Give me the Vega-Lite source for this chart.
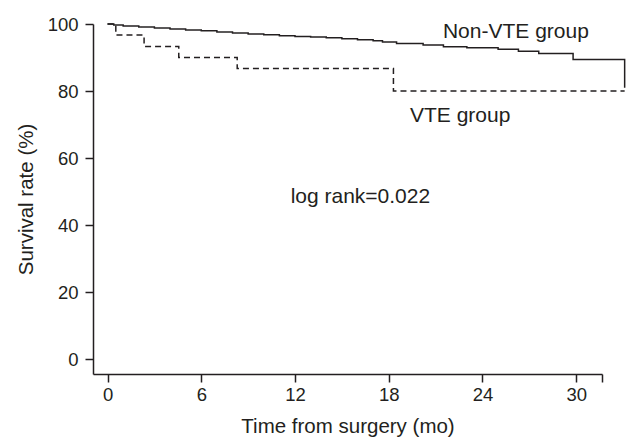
{
  "$schema": "https://vega.github.io/schema/vega-lite/v6.json",
  "autosize": "none",
  "width": 509,
  "height": 350,
  "padding": {"left": 93, "top": 24, "right": 25, "bottom": 68},
  "background": "white",
  "config": {
    "view": {"stroke": null},
    "font": "Liberation Sans",
    "axis": {"grid": false, "domainColor": "#231f20", "domainWidth": 1.5, "tickColor": "#231f20", "tickWidth": 1.5, "tickSize": 8, "labelColor": "#231f20", "titleColor": "#231f20", "labelFont": "Liberation Sans", "titleFont": "Liberation Sans", "labelFontSize": 18.5, "titleFontSize": 20.5, "titleFontWeight": "normal"}
  },
  "datasets": {
    "curves": [
      {"group": "Non-VTE", "t": 0, "s": 100},
      {"group": "Non-VTE", "t": 0.4, "s": 99.7},
      {"group": "Non-VTE", "t": 1.0, "s": 99.4},
      {"group": "Non-VTE", "t": 2.0, "s": 99.1},
      {"group": "Non-VTE", "t": 3.0, "s": 98.8},
      {"group": "Non-VTE", "t": 4.0, "s": 98.5},
      {"group": "Non-VTE", "t": 5.0, "s": 98.2},
      {"group": "Non-VTE", "t": 6.0, "s": 98.0},
      {"group": "Non-VTE", "t": 7.0, "s": 97.6},
      {"group": "Non-VTE", "t": 8.0, "s": 97.3},
      {"group": "Non-VTE", "t": 9.0, "s": 97.0},
      {"group": "Non-VTE", "t": 10.0, "s": 96.8},
      {"group": "Non-VTE", "t": 11.0, "s": 96.5},
      {"group": "Non-VTE", "t": 12.0, "s": 96.3},
      {"group": "Non-VTE", "t": 13.0, "s": 96.1},
      {"group": "Non-VTE", "t": 14.0, "s": 95.9},
      {"group": "Non-VTE", "t": 15.0, "s": 95.6},
      {"group": "Non-VTE", "t": 16.0, "s": 95.3},
      {"group": "Non-VTE", "t": 17.0, "s": 95.0},
      {"group": "Non-VTE", "t": 17.6, "s": 94.6},
      {"group": "Non-VTE", "t": 18.5, "s": 94.2},
      {"group": "Non-VTE", "t": 20.2, "s": 93.7},
      {"group": "Non-VTE", "t": 21.5, "s": 93.2},
      {"group": "Non-VTE", "t": 23.0, "s": 92.9},
      {"group": "Non-VTE", "t": 25.0, "s": 92.5},
      {"group": "Non-VTE", "t": 26.3, "s": 91.9},
      {"group": "Non-VTE", "t": 27.6, "s": 91.2},
      {"group": "Non-VTE", "t": 29.8, "s": 89.4},
      {"group": "Non-VTE", "t": 33.1, "s": 81.0},
      {"group": "VTE", "t": 0, "s": 100},
      {"group": "VTE", "t": 0.53, "s": 96.7},
      {"group": "VTE", "t": 2.34, "s": 93.3},
      {"group": "VTE", "t": 4.56, "s": 90.0},
      {"group": "VTE", "t": 8.3, "s": 86.7},
      {"group": "VTE", "t": 18.3, "s": 80.0},
      {"group": "VTE", "t": 33.1, "s": 80.0}
    ],
    "labels": [
      {"label": "Non-VTE group", "t": 21.47, "s": 95.7},
      {"label": "VTE group", "t": 19.36, "s": 70.9},
      {"label": "log rank=0.022", "t": 11.72, "s": 46.6}
    ]
  },
  "layer": [
    {
      "data": {"name": "curves"},
      "mark": {"type": "line", "interpolate": "step-after", "strokeWidth": 1.5, "color": "#231f20"},
      "encoding": {
        "x": {"field": "t", "type": "quantitative",
          "scale": {"domain": [-0.93, 31.65], "nice": false, "zero": false},
          "axis": {"values": [0, 6, 12, 18, 24, 30, 31.65], "labelExpr": "datum.value > 31 ? '' : datum.label", "title": "Time from surgery (mo)", "labelPadding": 3, "titlePadding": 13, "labelFlush": false}},
        "y": {"field": "s", "type": "quantitative",
          "scale": {"domain": [-4.4, 100], "nice": false, "zero": false},
          "axis": {"values": [0, 20, 40, 60, 80, 100], "title": "Survival rate (%)", "labelPadding": 7, "titlePadding": 11, "labelFlush": false}},
        "strokeDash": {"field": "group", "type": "nominal",
          "scale": {"domain": ["Non-VTE", "VTE"], "range": [[1, 0], [6, 4]]}, "legend": null}
      }
    },
    {
      "data": {"name": "labels"},
      "mark": {"type": "text", "align": "left", "baseline": "alphabetic", "fontSize": 21, "color": "#231f20", "font": "Liberation Sans"},
      "encoding": {
        "x": {"field": "t", "type": "quantitative"},
        "y": {"field": "s", "type": "quantitative"},
        "text": {"field": "label"}
      }
    }
  ]
}
